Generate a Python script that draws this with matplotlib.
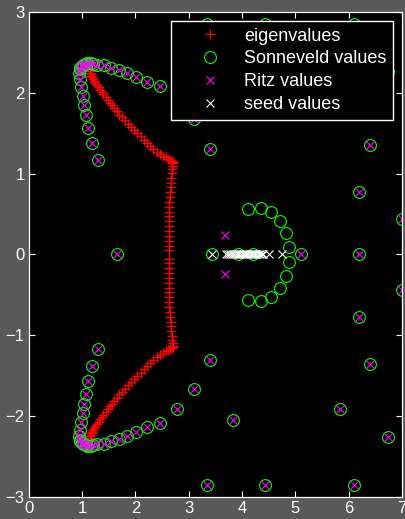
import numpy as np
import matplotlib
matplotlib.use("Agg")
import matplotlib.pyplot as plt

plt.rcParams['font.family'] = ['Liberation Sans', 'DejaVu Sans']

# Eigenvalues in the upper half plane (the spectrum is closed under conjugation)
eig_re = [1.14, 1.15, 1.16, 1.17, 1.19, 1.21, 1.23, 1.25, 1.28, 1.31, 1.34, 1.37,
          1.40, 1.44, 1.48, 1.52, 1.56, 1.60, 1.65, 1.70, 1.75, 1.80, 1.86, 1.92,
          1.98, 2.04, 2.10, 2.16, 2.22, 2.28, 2.34, 2.40, 2.46, 2.52, 2.57, 2.61,
          2.65, 2.68, 2.70, 2.71,
          2.70, 2.69, 2.68, 2.67, 2.66, 2.66, 2.65, 2.65, 2.64, 2.64, 2.64, 2.63,
          2.63, 2.63, 2.63, 2.63, 2.63, 2.63, 2.63]
eig_im = [2.27, 2.25, 2.23, 2.21, 2.19, 2.17, 2.15, 2.12, 2.10, 2.07, 2.04, 2.01,
          1.98, 1.95, 1.91, 1.88, 1.85, 1.81, 1.77, 1.73, 1.70, 1.66, 1.62, 1.58,
          1.54, 1.50, 1.46, 1.42, 1.38, 1.34, 1.30, 1.27, 1.24, 1.22, 1.20, 1.18,
          1.17, 1.16, 1.15, 1.13,
          1.10, 1.06, 1.01, 0.95, 0.89, 0.83, 0.77, 0.71, 0.65, 0.59, 0.53, 0.47,
          0.41, 0.35, 0.29, 0.23, 0.17, 0.11, 0.05]

# Values shared by the Sonneveld and Ritz sets (upper half plane)
outer_re = [1.30, 1.18, 1.11, 1.07, 1.04, 1.01, 0.98, 0.96, 0.95, 0.96, 0.97, 0.99,
            1.01, 1.03, 1.07, 1.10, 1.16, 1.21, 1.28, 1.41, 1.54, 1.69, 1.84, 2.02,
            2.22, 2.47, 2.79, 3.10, 3.40, 3.84, 3.34, 4.43, 6.10, 5.84, 6.40, 6.73,
            6.20, 7.00]
outer_im = [1.17, 1.38, 1.57, 1.72, 1.85, 1.96, 2.07, 2.17, 2.24, 2.29, 2.31, 2.33,
            2.34, 2.35, 2.36, 2.37, 2.37, 2.36, 2.35, 2.34, 2.31, 2.28, 2.24, 2.19,
            2.14, 2.08, 1.91, 1.67, 1.31, 2.05, 2.85, 2.85, 2.85, 1.91, 1.35, 2.26,
            0.77, 0.44]
outer_real_axis = [1.65, 5.11, 6.20]

# Sonneveld values without a matching Ritz value
sonn_arc_re = [4.11, 4.35, 4.55, 4.71, 4.83, 4.89]
sonn_arc_im = [0.56, 0.58, 0.52, 0.41, 0.26, 0.09]
sonn_real_axis = [3.44, 3.92, 4.20]

# Ritz values without a matching Sonneveld value
ritz_re = [3.68]
ritz_im = [0.24]

# Seed values (all real)
seed_values = [3.44, 3.70, 3.74, 3.78, 3.81, 3.85, 3.88, 3.92, 3.95, 3.98, 4.01,
               4.04, 4.07, 4.10, 4.13, 4.16, 4.19, 4.22, 4.25, 4.28, 4.31, 4.34,
               4.37, 4.40, 4.51, 4.75]


def conj_pairs(re, im):
    re = np.asarray(re, float)
    im = np.asarray(im, float)
    return np.concatenate([re, re]), np.concatenate([im, -im])


fig = plt.figure(figsize=(4.06, 5.19), dpi=100, facecolor='#595959')
ax = fig.add_axes([0.0707, 0.0424, 0.9195, 0.9345], facecolor='black')

ex, ey = conj_pairs(eig_re, eig_im)
ox, oy = conj_pairs(outer_re, outer_im)
ox = np.concatenate([ox, outer_real_axis])
oy = np.concatenate([oy, np.zeros(len(outer_real_axis))])
ax_, ay_ = conj_pairs(sonn_arc_re, sonn_arc_im)
sx = np.concatenate([ox, ax_, sonn_real_axis])
sy = np.concatenate([oy, ay_, np.zeros(len(sonn_real_axis))])
rx_, ry_ = conj_pairs(ritz_re, ritz_im)
rx = np.concatenate([ox, rx_])
ry = np.concatenate([oy, ry_])

ax.plot(ex, ey, '+', color='#ff0000', ms=7.5, mew=0.9, label='eigenvalues')
ax.plot(sx, sy, 'o', mfc='none', mec='#00ff00', ms=8.5, mew=0.8, label='Sonneveld values')
ax.plot(rx, ry, 'x', color='#ff00ff', ms=5.5, mew=0.8, label='Ritz values')
ax.plot(seed_values, np.zeros(len(seed_values)), 'x', color='white', ms=5.5, mew=0.8,
        label='seed values')

ax.set_xlim(0, 7)
ax.set_ylim(-3, 3)
ax.set_xticks(range(0, 8))
ax.set_yticks(range(-3, 4))
ax.tick_params(direction='in', length=4, width=0.8, colors='white', labelsize=12,
               top=True, right=True, pad=3)
for sp in ax.spines.values():
    sp.set_color('white')
    sp.set_linewidth(0.9)

leg = ax.legend(loc='upper right', bbox_to_anchor=(0.976, 0.981), borderaxespad=0,
                fontsize=13, facecolor='black', edgecolor='white', framealpha=1,
                fancybox=False, handlelength=3.67, handletextpad=0.05,
                labelspacing=0.33, borderpad=0.35)
leg.get_frame().set_linewidth(1.0)
for t in leg.get_texts():
    t.set_color('white')

fig.savefig('out.png', dpi=100, facecolor=fig.get_facecolor())
